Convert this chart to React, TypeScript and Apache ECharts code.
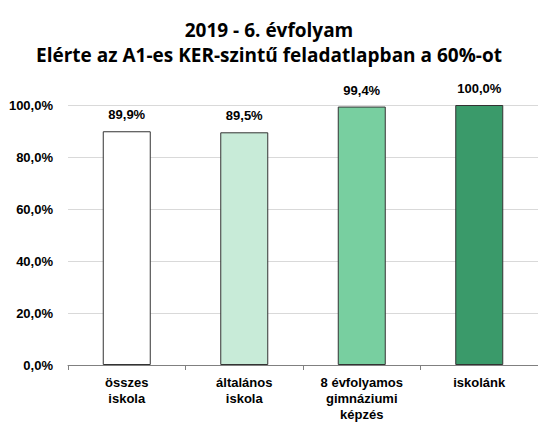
import React, { useEffect, useRef } from "react";
import * as echarts from "echarts";

const categories = ["összes\niskola", "általános\niskola", "8 évfolyamos\ngimnáziumi\nképzés", "iskolánk"];
const values = [89.9, 89.5, 99.4, 100.0];
const barColors = ["#ffffff", "#c8ebd8", "#78cfa0", "#3a9a6a"];
const titleLines = ["2019 - 6. évfolyam", "Elérte az A1-es KER-szintű feladatlapban a 60%-ot"];

const fmt = (v: number) => v.toFixed(1).replace(".", ",") + "%";

export default function App() {
  const ref = useRef<HTMLDivElement>(null);
  useEffect(() => {
    const chart = echarts.init(ref.current!, null, { renderer: "svg" });
    chart.setOption({
      animation: false,
      backgroundColor: "#ffffff",
      title: {
        text: titleLines.join("\n"),
        left: "center",
        top: 12,
        textStyle: {
          fontFamily: "Open Sans",
          fontWeight: "bold",
          fontSize: 19,
          lineHeight: 25,
          color: "#000000",
        },
      },
      grid: { left: 68, right: -3, top: 105, bottom: 59 },
      xAxis: {
        type: "category",
        data: categories,
        axisLine: { lineStyle: { color: "#808080", width: 1 } },
        axisTick: { show: true, length: 5, lineStyle: { color: "#808080" } },
        axisLabel: {
          fontFamily: "Liberation Sans",
          fontWeight: "bold",
          fontSize: 13,
          lineHeight: 16,
          color: "#000000",
          margin: 9,
          interval: 0,
        },
      },
      yAxis: {
        type: "value",
        min: 0,
        max: 100,
        interval: 20,
        axisLine: { show: false },
        axisTick: { show: false },
        splitLine: { lineStyle: { color: "#d9d9d9", width: 1 } },
        axisLabel: {
          formatter: (v: number) => fmt(v),
          fontFamily: "Liberation Sans",
          fontWeight: "bold",
          fontSize: 13,
          color: "#000000",
          margin: 15,
        },
      },
      series: [
        {
          type: "bar",
          barWidth: 48,
          data: values.map((v, i) => ({
            value: v,
            itemStyle: { color: barColors[i], borderColor: "#333333", borderWidth: 1 },
          })),
          label: {
            show: true,
            position: "top",
            distance: 10,
            formatter: (p: any) => fmt(p.value),
            fontFamily: "Liberation Sans",
            fontWeight: "bold",
            fontSize: 13,
            color: "#000000",
          },
        },
      ],
    });
    return () => chart.dispose();
  }, []);
  return <div ref={ref} style={{ position: "absolute", left: 0, top: 0, width: 538, height: 424 }} />;
}
